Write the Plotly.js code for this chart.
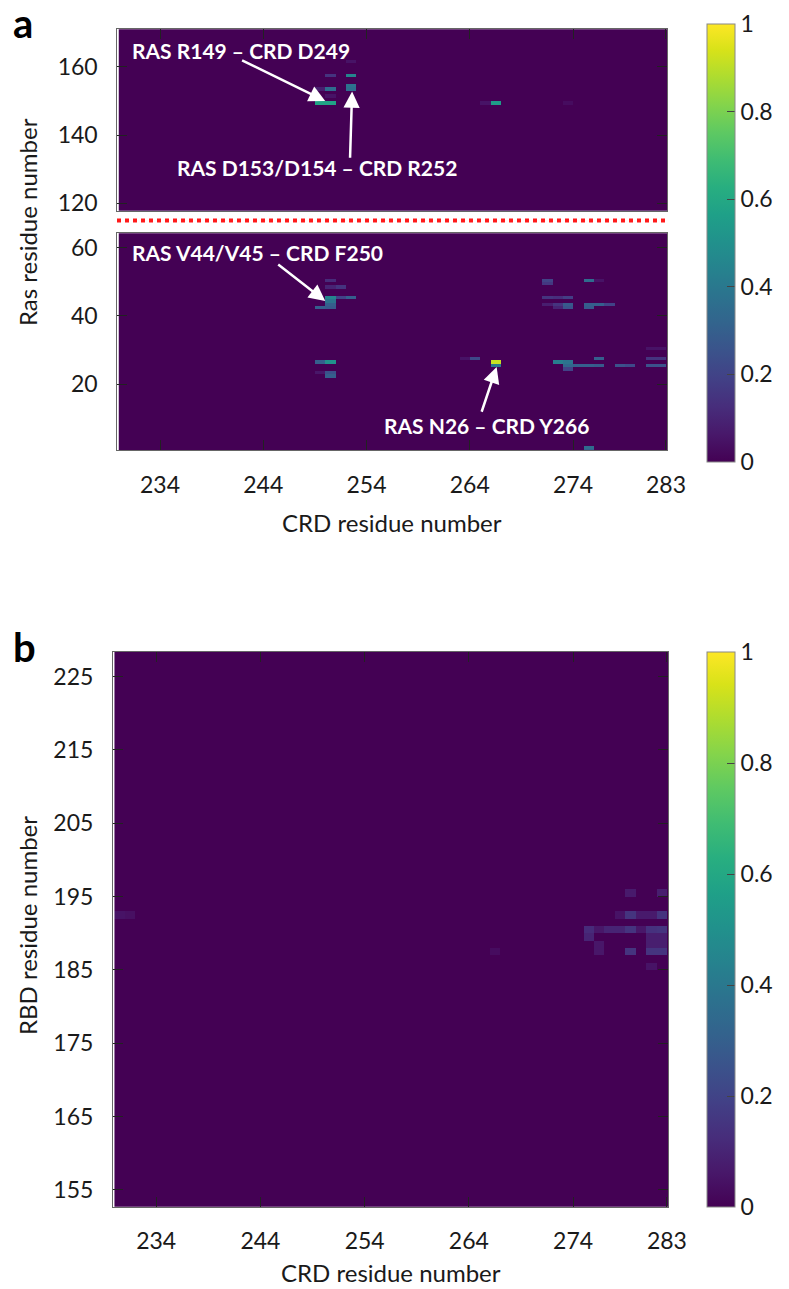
<!DOCTYPE html>
<html>
<head>
<meta charset="utf-8">
<script src="https://cdn.plot.ly/plotly-3.0.1.min.js"></script>
<style>html,body{margin:0;padding:0;background:#fff;}#chart{width:789px;height:1289px;}</style>
</head>
<body>
<div id="chart"></div>
<script>
// ---- axis extents (residue numbers) ----
const crdResidues = [230, 283];
const rasUpperResidues = [117, 171];
const rasLowerResidues = [0, 65];
const rbdResidues = [152, 228];

// ---- tick labels ----
const crdTicks = [234, 244, 254, 264, 274, 283];
const rasUpperTicks = [120, 140, 160];
const rasLowerTicks = [20, 40, 60];
const rbdTicks = [155, 165, 175, 185, 195, 205, 215, 225];
const cbTicks = [0, 0.2, 0.4, 0.6, 0.8, 1];
const cbTickText = ['0', '0.2', '0.4', '0.6', '0.8', '1'];

// ---- panel a, upper part (Ras 117-171) contacts ----
const upperCRD = [249, 250, 249, 250, 250, 250, 252, 252, 252, 252, 265, 266, 273];
const upperRas = [149, 149, 153, 153, 151, 157, 157, 154, 153, 161, 149, 149, 149];
const upperVal = [0.58, 0.58, 0.08, 0.35, 0.05, 0.15, 0.45, 0.38, 0.36, 0.05, 0.05, 0.55, 0.03];

// ---- panel a, lower part (Ras 1-65) contacts ----
const lowerCRD = [250, 250, 251, 250, 251, 252, 250, 250, 249, 250,
                  249, 250, 249, 250, 250,
                  271, 271, 275, 276, 271, 272, 273,
                  271, 272, 273, 272, 273, 275, 275, 276, 277,
                  263, 264, 266, 266,
                  272, 273, 273, 274, 275, 276, 276, 273,
                  278, 279, 281, 282, 281, 282, 281, 282,
                  275, 275];
const lowerRas = [50, 48, 48, 45, 45, 45, 44, 43, 42, 42,
                  26, 26, 23, 23, 22,
                  50, 49, 50, 50, 45, 45, 45,
                  43, 43, 43, 42, 42, 43, 42, 43, 43,
                  27, 27, 26, 25,
                  26, 26, 25, 25, 25, 25, 27, 24,
                  25, 25, 27, 27, 25, 25, 30, 30,
                  1, 0];
const lowerVal = [0.12, 0.10, 0.15, 0.45, 0.20, 0.30, 0.38, 0.30, 0.30, 0.28,
                  0.30, 0.50, 0.06, 0.25, 0.30,
                  0.20, 0.16, 0.35, 0.05, 0.15, 0.13, 0.18,
                  0.08, 0.15, 0.28, 0.10, 0.25, 0.30, 0.28, 0.30, 0.20,
                  0.05, 0.22, 0.92, 0.40,
                  0.42, 0.38, 0.33, 0.30, 0.30, 0.28, 0.30, 0.20,
                  0.25, 0.22, 0.15, 0.15, 0.25, 0.25, 0.05, 0.05,
                  0.35, 0.30];

// ---- panel b (RBD 152-228) contacts ----
const rbdCRD = [279, 282, 278, 279, 280, 281, 282,
                275, 276, 277, 278, 279, 280, 281, 282,
                275, 281, 282, 276, 281, 282,
                276, 279, 281, 282, 281, 230, 231, 266];
const rbdRes = [195, 195, 192, 192, 192, 192, 192,
                190, 190, 190, 190, 190, 190, 190, 190,
                189, 189, 189, 188, 188, 188,
                187, 187, 187, 187, 185, 192, 192, 187];
const rbdVal = [0.07, 0.08, 0.05, 0.15, 0.07, 0.07, 0.15,
                0.12, 0.06, 0.10, 0.10, 0.15, 0.06, 0.14, 0.15,
                0.10, 0.08, 0.08, 0.06, 0.08, 0.08,
                0.06, 0.15, 0.15, 0.15, 0.05, 0.05, 0.04, 0.03];

function buildGrid(xr, yr, cx, cy, cv) {
  const nx = xr[1] - xr[0] + 1, ny = yr[1] - yr[0] + 1;
  const z = [];
  for (let j = 0; j < ny; j++) { z.push(new Array(nx).fill(0)); }
  for (let k = 0; k < cx.length; k++) {
    const i = cx[k] - xr[0], j = cy[k] - yr[0];
    if (i >= 0 && i < nx && j >= 0 && j < ny) z[j][i] = cv[k];
  }
  return z;
}

const W = 789, H = 1289;
const FONT = 'Lato, "Open Sans", sans-serif';
const TXT = '#1a1a1a';

function cbar(topPx, botPx) {
  return {
    x: 707 / W, xanchor: 'left', xpad: 0, ypad: 0,
    thickness: 28, thicknessmode: 'pixels',
    len: (botPx - topPx) / H, lenmode: 'fraction',
    y: 1 - (topPx + botPx) / 2 / H, yanchor: 'middle',
    tickvals: cbTicks, ticktext: cbTickText,
    ticks: 'inside', ticklen: 8, tickcolor: '#444', tickwidth: 1,
    outlinewidth: 1, outlinecolor: '#888',
    tickfont: {family: FONT, size: 23, color: TXT}
  };
}

function hm(xr, yr, cx, cy, cv, xa, ya, showscale, cb) {
  return {
    type: 'heatmap',
    z: buildGrid(xr, yr, cx, cy, cv),
    x0: xr[0] + 0.5, dx: 1, y0: yr[0] + 0.5, dy: 1,
    xaxis: xa, yaxis: ya,
    colorscale: 'Viridis', zmin: 0, zmax: 1,
    showscale: showscale, colorbar: cb,
    hoverinfo: 'skip'
  };
}

const traces = [
  hm(crdResidues, rasUpperResidues, upperCRD, upperRas, upperVal, 'x2', 'y2', false),
  hm(crdResidues, rasLowerResidues, lowerCRD, lowerRas, lowerVal, 'x', 'y', true, cbar(24, 462)),
  hm(crdResidues, rbdResidues, rbdCRD, rbdRes, rbdVal, 'x3', 'y3', true, cbar(652, 1207))
];

const axBase = {
  showgrid: false, zeroline: false,
  ticks: 'inside', ticklen: 10, tickwidth: 1, tickcolor: '#222',
  showline: true, linecolor: '#666', linewidth: 1,
  tickfont: {family: FONT, size: 23, color: TXT}
};

const layout = {
  width: W, height: H,
  margin: {l: 0, r: 0, t: 0, b: 0},
  paper_bgcolor: '#fff', plot_bgcolor: '#fff',
  font: {family: FONT, size: 23, color: TXT},
  showlegend: false,
  xaxis: Object.assign({}, axBase, {
    domain: [117.3 / W, 667 / W], anchor: 'y', range: [229.86, 283.1],
    tickvals: crdTicks, mirror: true, ticklabelstandoff: 14
  }),
  yaxis: Object.assign({}, axBase, {
    domain: [1 - 450 / H, 1 - 233.3 / H], anchor: 'x', range: [0.6, 64.3],
    tickvals: rasLowerTicks, mirror: 'ticks', ticklabelstandoff: 14
  }),
  xaxis2: Object.assign({}, axBase, {
    domain: [117.3 / W, 667 / W], anchor: 'y2', range: [229.86, 283.1],
    tickvals: crdTicks, side: 'top', showticklabels: false, mirror: true
  }),
  yaxis2: Object.assign({}, axBase, {
    domain: [1 - 210.7 / H, 1 - 29.3 / H], anchor: 'x2', range: [117.85, 171],
    tickvals: rasUpperTicks, mirror: 'ticks', ticklabelstandoff: 14
  }),
  xaxis3: Object.assign({}, axBase, {
    domain: [113 / W, 668 / W], anchor: 'y3', range: [229.86, 283.1],
    tickvals: crdTicks, mirror: 'ticks', ticklabelstandoff: 14
  }),
  yaxis3: Object.assign({}, axBase, {
    domain: [1 - 1206.7 / H, 1 - 651.7 / H], anchor: 'x3', range: [152.7, 228.4],
    tickvals: rbdTicks, mirror: 'ticks', ticklabelstandoff: 14
  }),
  shapes: [{
    type: 'line', xref: 'paper', yref: 'paper',
    x0: 117 / W, x1: 669 / W, y0: 1 - 220.5 / H, y1: 1 - 220.5 / H,
    line: {color: '#ff1a1a', width: 4, dash: 'dot'}
  }],
  annotations: []
};

const A = layout.annotations;
function paperText(text, px, py, opts) {
  A.push(Object.assign({
    text: text, xref: 'paper', yref: 'paper', x: px / W, y: 1 - py / H,
    showarrow: false, xanchor: 'center', yanchor: 'middle',
    font: {family: FONT, size: 24, color: TXT}
  }, opts || {}));
}
paperText('a', 11, 23, {xanchor: 'left', font: {family: FONT, size: 40, color: '#000', weight: 'bold'}});
paperText('b', 11, 647, {xanchor: 'left', font: {family: FONT, size: 40, color: '#000', weight: 'bold'}});
paperText('Ras residue number', 28, 222, {textangle: -90});
paperText('CRD residue number', 392, 522);
paperText('RBD residue number', 27, 926, {textangle: -90});
paperText('CRD residue number', 391, 1272);

function label(text, xa, ya, x, y) {
  A.push({text: text, xref: xa, yref: ya, x: x, y: y, showarrow: false,
    xanchor: 'center', yanchor: 'middle',
    font: {family: FONT, size: 21, color: '#fff', weight: 'bold'}});
}
function arrow(xa, ya, hx, hy, tx, ty) {
  A.push({text: '', xref: xa, yref: ya, axref: xa, ayref: ya,
    x: hx, y: hy, ax: tx, ay: ty, showarrow: true,
    arrowhead: 2, arrowsize: 1.3, arrowwidth: 2.5, arrowcolor: '#fff',
    standoff: 0, startstandoff: 0});
}
label('RAS R149 \u2013 CRD D249', 'x2', 'y2', 241.8, 164.9);
arrow('x2', 'y2', 250.0, 150.0, 241.8, 162.1);
label('RAS D153/D154 \u2013 CRD R252', 'x2', 'y2', 249.2, 130.5);
arrow('x2', 'y2', 252.6, 152.8, 252.4, 132.9);
label('RAS V44/V45 \u2013 CRD F250', 'x', 'y', 243.4, 58.7);
arrow('x', 'y', 250.0, 44.4, 245.3, 55.5);
label('RAS N26 \u2013 CRD Y266', 'x', 'y', 265.6, 7.7);
arrow('x', 'y', 266.6, 25.0, 265.1, 11.4);

Plotly.newPlot('chart', traces, layout, {displayModeBar: false, staticPlot: true});
</script>
</body>
</html>
